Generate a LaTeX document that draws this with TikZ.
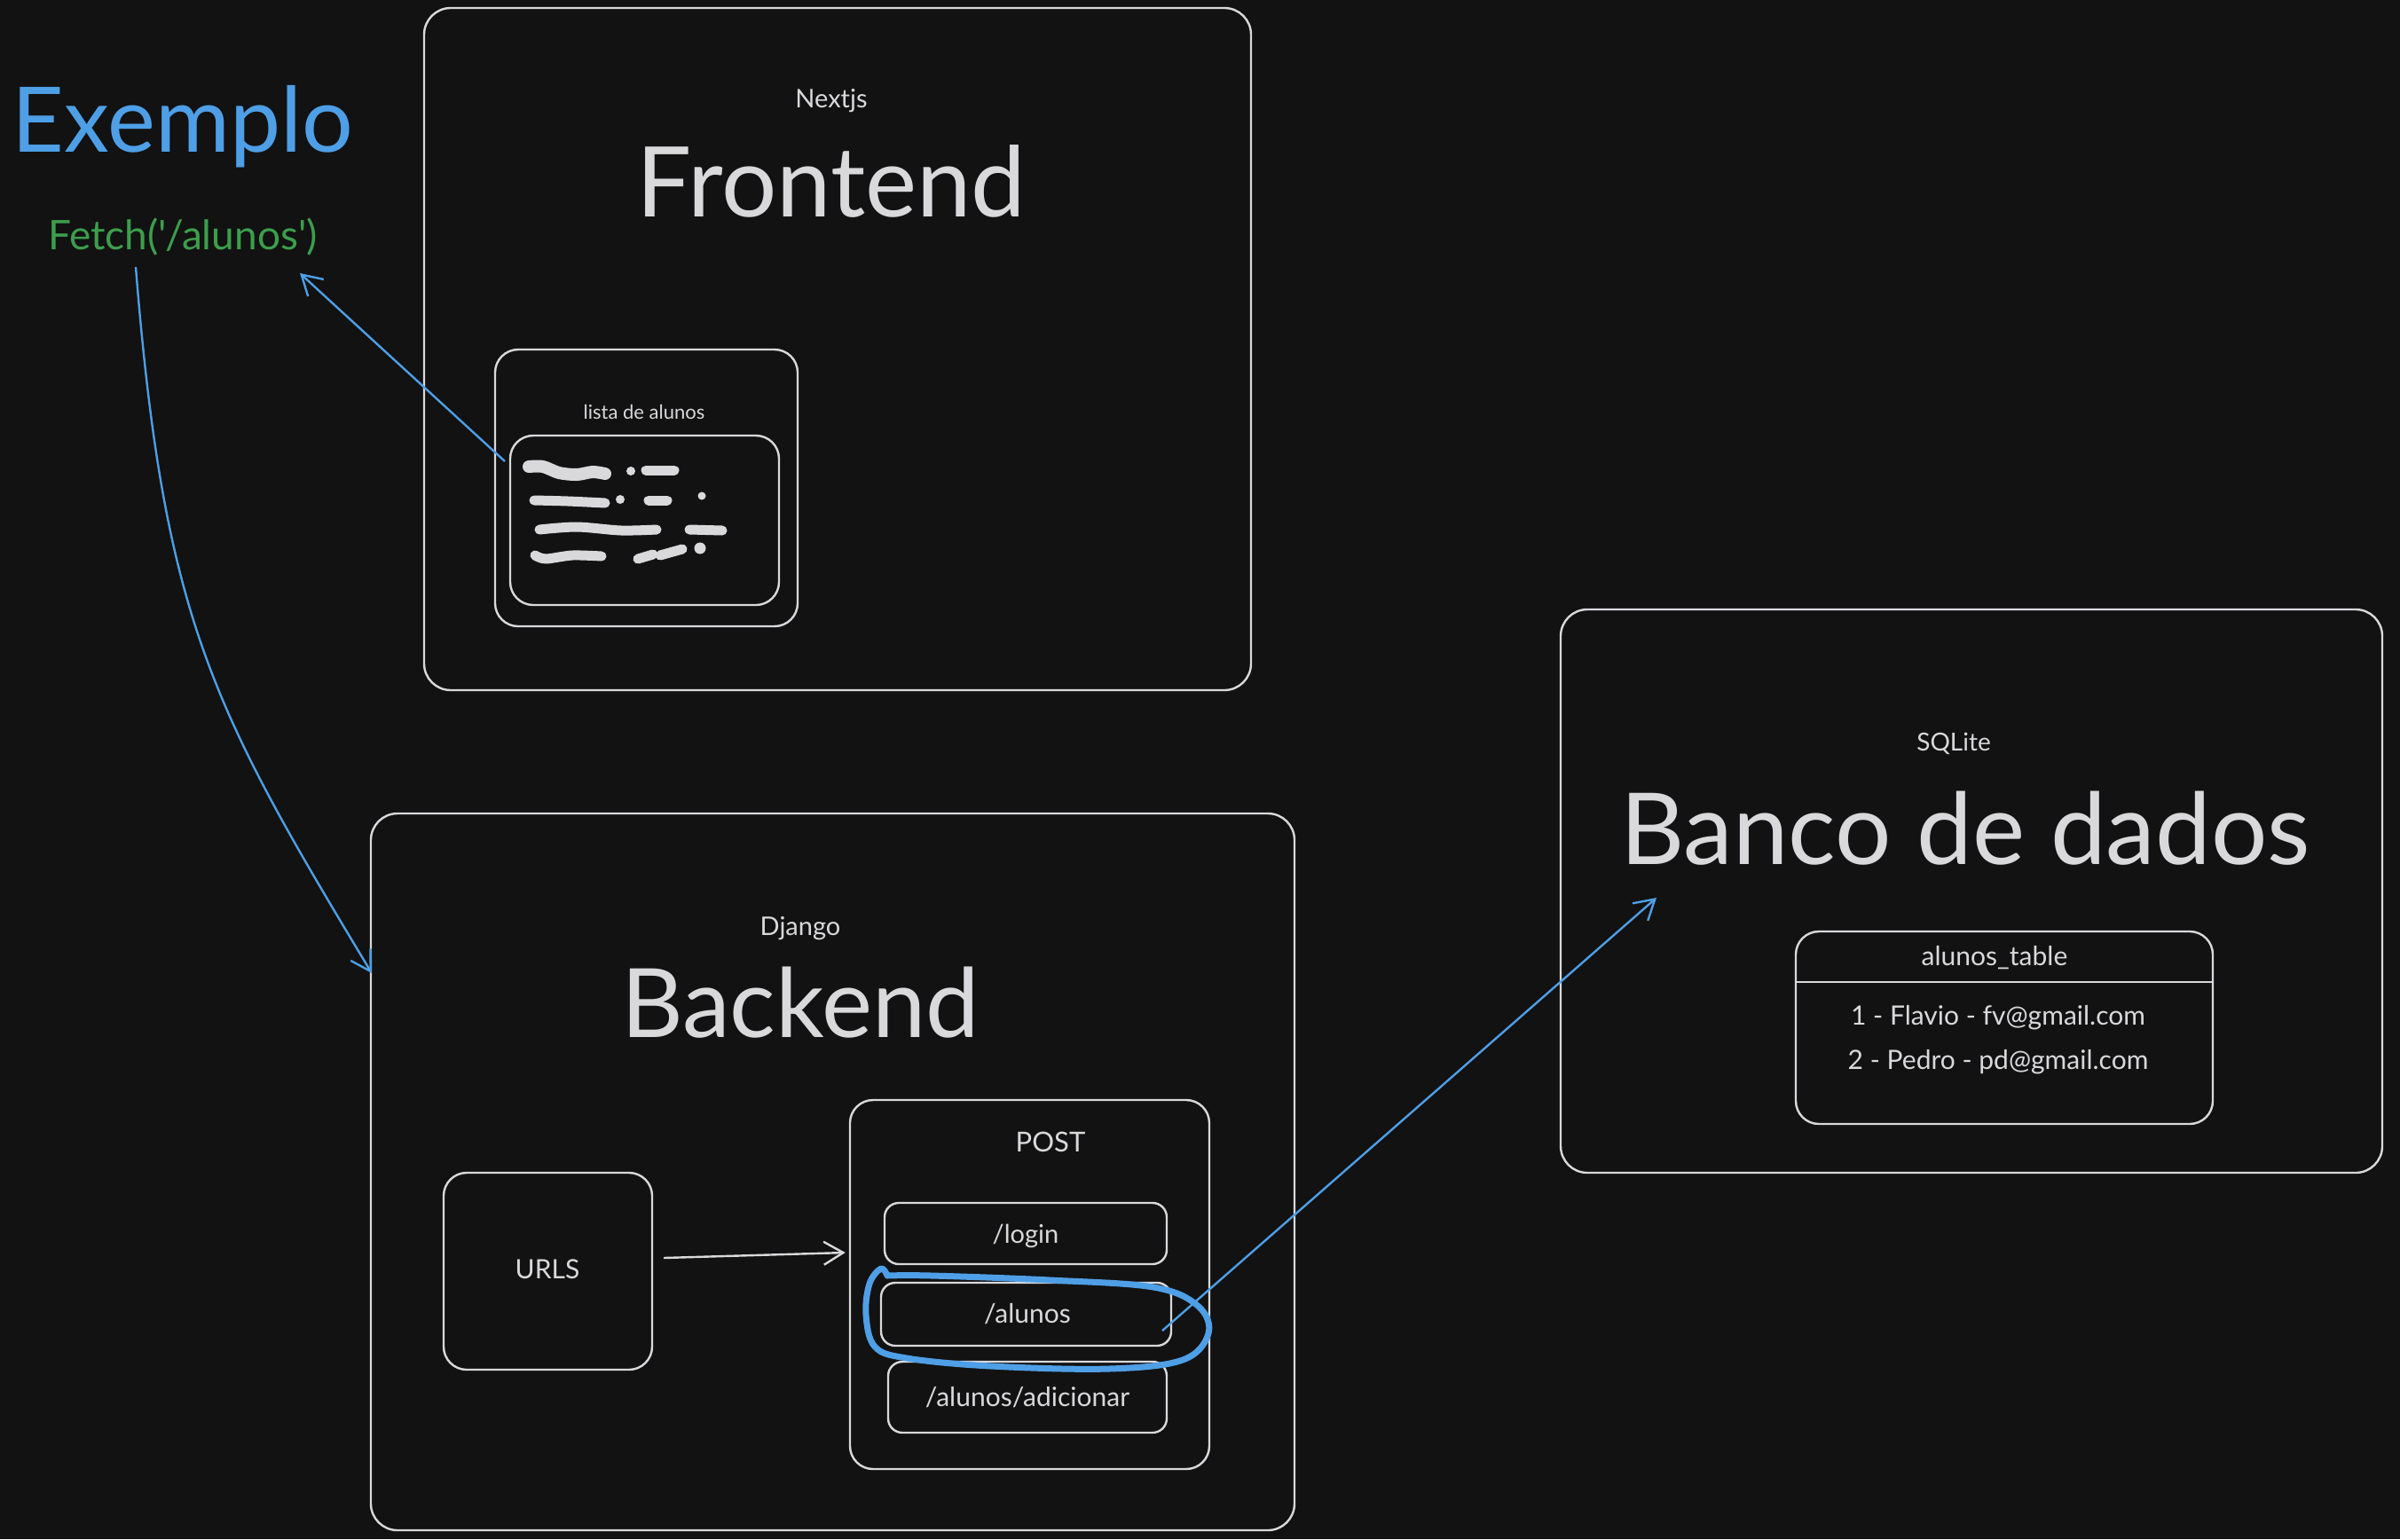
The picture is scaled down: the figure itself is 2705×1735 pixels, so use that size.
\documentclass[tikz,border=0pt]{standalone}
\usepackage{fontspec}
\setmainfont{Lato}
\newfontfamily\plainfont{Lato}
\usetikzlibrary{arrows.meta}
\definecolor{bg}{HTML}{121212}
\definecolor{ink}{HTML}{D9D9DC}
\definecolor{xblue}{HTML}{4E9FE6}
\definecolor{xgreen}{HTML}{3C9E4C}
\begin{document}
\begin{tikzpicture}[x=1pt,y=-1pt,
  box/.style={draw=ink, line width=2.4pt, rounded corners=#1, inner sep=0pt},
  box/.default=30pt,
  txt/.style={text=ink, anchor=base, inner sep=0pt, font=\fontsize{#1}{#1}\selectfont},
  conn/.style={line width=2.4pt, -{Straight Barb[length=22pt,width=26pt,line width=2.4pt]}},
  scrib/.style={draw=ink, line width=#1, line cap=round, line join=round},
  scrib/.default=11pt
]
\useasboundingbox[fill=bg] (0,0) rectangle (2705,1735);

% ---------- Exemplo ----------
\node[txt=102pt, text=xblue] (ex) at (206,171) {Exemplo};
\node[txt=46pt, text=xgreen] (fetch) at (206,281) {\plainfont Fetch('/alunos')};

% ---------- Frontend ----------
\node[box, minimum width=932pt, minimum height=769pt] (front) at (944,393.5) {};
\node[txt=29pt] (nextjs) at (937,121) {Nextjs};
\node[txt=110pt] (fronttitle) at (937,244) {Frontend};
\node[box=26pt, minimum width=341pt, minimum height=312pt] (lista) at (728.5,550) {};
\node[txt=22pt] (listatxt) at (726,472) {lista de alunos};
\node[box=26pt, minimum width=303pt, minimum height=191pt] (inner) at (726.5,586.5) {};
% scribbles
\draw[scrib=14pt] plot[smooth] coordinates {(596,526) (612,526) (630,533) (650,535) (668,532) (682,534)};
\fill[ink] (711,531) circle (5pt);
\draw[scrib] (728,530) -- (760,530);
\draw[scrib] plot[smooth] coordinates {(602,564) (640,565) (682,567)};
\fill[ink] (699,563) circle (5pt);
\draw[scrib] (731,564) -- (752,564);
\fill[ink] (791,559) circle (4.5pt);
\draw[scrib] plot[smooth] coordinates {(608,597) (650,594) (700,598) (740,597)};
\draw[scrib] (777,597) -- (814,598);
\draw[scrib] plot[smooth] coordinates {(603,626) (615,630) (645,626) (678,627)};
\draw[scrib] (719,630) -- (736,625);
\draw[scrib] (744,626) -- (769,619);
\fill[ink] (789,618) circle (6.5pt);

% ---------- Backend ----------
\node[box, minimum width=1041pt, minimum height=808pt] (back) at (938.5,1321) {};
\node[txt=29pt] (django) at (902,1054) {Django};
\node[txt=108pt] (backtitle) at (902,1169) {Backend};
\node[box=26pt, minimum width=235pt, minimum height=222pt] (urls) at (617.5,1433) {};
\node[txt=30pt] (urlstxt) at (617,1441) {URLS};
\node[box=26pt, minimum width=405pt, minimum height=416pt] (post) at (1160.5,1448) {};
\node[txt=31pt] (posttxt) at (1184,1298) {POST};
\node[box=16pt, minimum width=318pt, minimum height=69pt] (login) at (1156,1390.5) {};
\node[txt=29pt] (logintxt) at (1156,1401) {/login};
\node[box=16pt, minimum width=327pt, minimum height=71pt] (alunos) at (1156.5,1481.5) {};
\node[txt=30pt] (alunostxt) at (1158,1491) {/alunos};
\node[box=16pt, minimum width=314pt, minimum height=80pt] (adic) at (1158,1575) {};
\node[txt=30pt] (adictxt) at (1158,1585) {/alunos/adicionar};

% highlight loop
\draw[xblue, line width=7pt, line cap=round, line join=round]
  plot[smooth, tension=0.6] coordinates {(1000,1438) (993,1430) (980,1447) (976,1482) (986,1518) (1022,1531) (1117,1540) (1250,1543) (1333,1533) (1362,1503) (1350,1472) (1300,1451) (1183,1443) (1050,1438) (1000,1438)};

% ---------- Banco ----------
\node[box, minimum width=926pt, minimum height=635pt] (banco) at (2222,1004.5) {};
\node[txt=28pt] (sqlite) at (2202,846) {SQLite};
\node[txt=112pt] (bancotitle) at (2215,974) {Banco de dados};
\node[box=26pt, minimum width=470pt, minimum height=217pt] (tbl) at (2259,1158.5) {};
\coordinate (divy) at (0,1107);
\draw[ink, line width=2.4pt] (tbl.west |- divy) -- (tbl.east |- divy);
\node[txt=30pt] (tbltitle) at (2248,1088) {alunos\_table};
\node[txt=30pt] (row1) at (2252,1155) {1 - Flavio - fv@gmail.com};
\node[txt=30pt] (row2) at (2252,1205) {2 - Pedro - pd@gmail.com};

% ---------- connectors ----------
\coordinate (fetchout) at (153,301);
\coordinate (backin) at (419,1097);
\draw[conn, xblue] (fetchout) .. controls (185,700) and (240,800) .. (backin);

\coordinate (listaout) at (569,520);
\coordinate (fetchin) at (338,308);
\draw[conn, xblue] (listaout) -- (fetchin);

\draw[conn, ink] ([xshift=12pt,yshift=15pt]urls.east) -- ([xshift=-4pt,yshift=36pt]post.west);

\coordinate (alunosout) at (1310,1500);
\coordinate (bancoin) at (1867,1012);
\draw[conn, xblue] (alunosout) -- (bancoin);
\end{tikzpicture}
\end{document}
